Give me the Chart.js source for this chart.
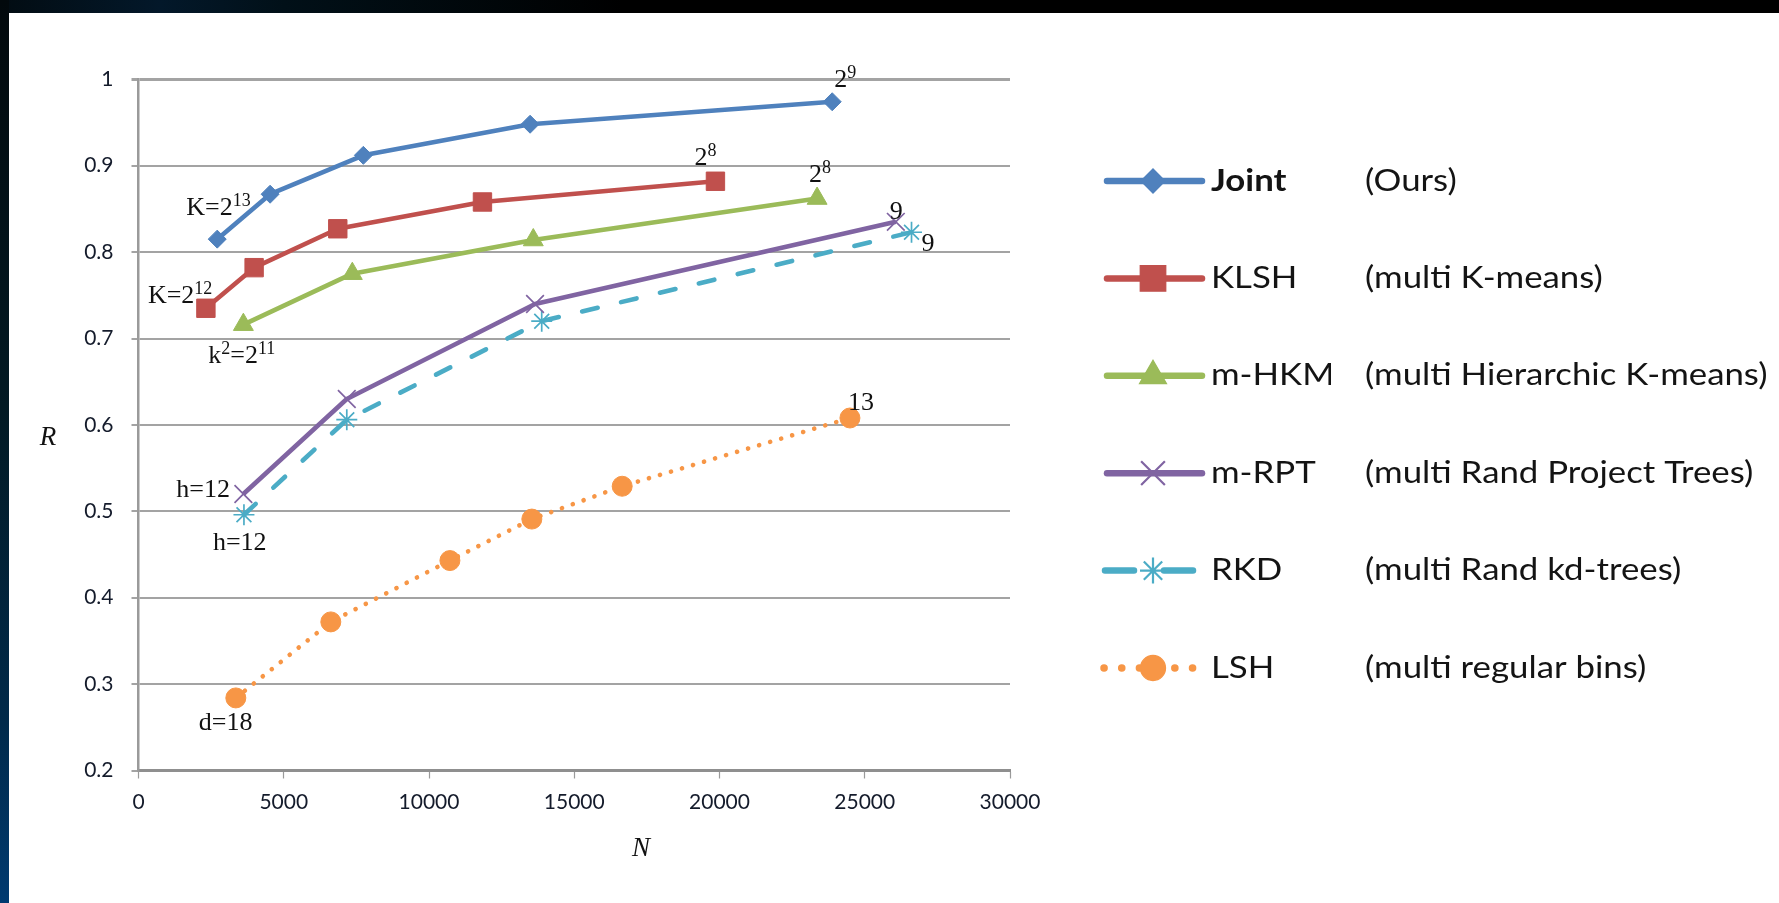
<!DOCTYPE html>
<html>
<head>
<meta charset="utf-8">
<title>Recall vs N</title>
<script src="https://cdn.jsdelivr.net/npm/chart.js@4.4.1/dist/chart.umd.min.js"></script>
<style>
  html, body { margin: 0; padding: 0; width: 1779px; height: 903px; overflow: hidden; background: #000; }
  .topband { position: absolute; left: 0; top: 0; width: 1779px; height: 13px;
    background: linear-gradient(to right, #020c12 0%, #03182a 9%, #011018 16%, #000 35%, #000 100%); }
  .leftband { position: absolute; left: 0; top: 0; width: 9px; height: 903px;
    background: linear-gradient(to bottom, #02090c 0%, #021a24 45%, #012a4a 80%, #003a70 100%); }
  .sheet { position: absolute; left: 9px; top: 13px; width: 1770px; height: 890px; background: #fff; }
</style>
</head>
<body>
<div class="topband"></div>
<div class="leftband"></div>
<div class="sheet"><canvas id="recallChart"></canvas></div>

<script>
// ===== DADOS =====
const seriesNames = ["Joint", "KLSH", "m-HKM", "m-RPT", "RKD", "LSH"];
const seriesNotes = ["(Ours)", "(multi K-means)", "(multi Hierarchic K-means)",
  "(multi Rand Project Trees)", "(multi Rand kd-trees)", "(multi regular bins)"];

const jointN = [2710, 4530, 7740, 13480, 23880];
const jointR = [0.815, 0.867, 0.912, 0.948, 0.974];

const klshN = [2320, 3980, 6860, 11840, 19860];
const klshR = [0.735, 0.782, 0.827, 0.858, 0.882];

const hkmN = [3610, 7360, 13590, 23360];
const hkmR = [0.716, 0.775, 0.814, 0.862];

const rptN = [3610, 7170, 13650, 26070];
const rptR = [0.520, 0.630, 0.740, 0.835];

const rkdN = [3630, 7170, 13880, 26610];
const rkdR = [0.496, 0.606, 0.720, 0.823];

const lshN = [3350, 6620, 10720, 13540, 16650, 24490];
const lshR = [0.284, 0.372, 0.443, 0.491, 0.529, 0.608];

const xTicks = [0, 5000, 10000, 15000, 20000, 25000, 30000];
const xTickLabels = ["0", "5000", "10000", "15000", "20000", "25000", "30000"];
const yTicks = [0.2, 0.3, 0.4, 0.5, 0.6, 0.7, 0.8, 0.9, 1];
const yTickLabels = ["0.2", "0.3", "0.4", "0.5", "0.6", "0.7", "0.8", "0.9", "1"];

const xTitle = "N";
const yTitle = "R";

// rótulos junto aos pontos: [série, ponto, partes (texto, sobrescrito)]
const pointNotes = [
  { ds: 0, i: 0, parts: [["K=2", 0], ["13", 1]], dx: -31, dy: -24 },
  { ds: 1, i: 0, parts: [["K=2", 0], ["12", 1]], dx: -58, dy: -5 },
  { ds: 2, i: 0, parts: [["k", 0], ["2", 1], ["=2", 0], ["11", 1]], dx: -35, dy: 38 },
  { ds: 3, i: 0, parts: [["h=12", 0]], dx: -67, dy: 3 },
  { ds: 4, i: 0, parts: [["h=12", 0]], dx: -31, dy: 35 },
  { ds: 5, i: 0, parts: [["d=18", 0]], dx: -37, dy: 32 },
  { ds: 0, i: 4, parts: [["2", 0], ["9", 1]], dx: 2, dy: -15 },
  { ds: 1, i: 4, parts: [["2", 0], ["8", 1]], dx: -21, dy: -16 },
  { ds: 2, i: 3, parts: [["2", 0], ["8", 1]], dx: -8, dy: -17 },
  { ds: 3, i: 3, parts: [["9", 0]], dx: -6, dy: -3 },
  { ds: 4, i: 3, parts: [["9", 0]], dx: 10, dy: 19 },
  { ds: 5, i: 5, parts: [["13", 0]], dx: -2, dy: -8 }
];

const toPoints = (xs, ys) => xs.map((x, k) => ({ x: x, y: ys[k] }));

// ===== ESTILOS =====
const cores = ["#4f81bd", "#c0504d", "#9bbb59", "#8064a2", "#4bacc6", "#f79646"];
const marcadores = ["rectRot", "rect", "triangle", "crossRot", "star", "circle"];
const raios = [9, 13, 11.5, 12.5, 10.5, 10];
const raiosLegenda = [12, 18, 15.5, 16.8, 13, 12.5];
const tracos = [[], [], [], [], [16, 24], [0.1, 11.4]];
const tracosLegenda = [[], [], [], [], [29, 30], [0.1, 17.6]];
const SERIF = '"Liberation Serif", "DejaVu Serif", serif';
const SANS = 'Lato, "Open Sans", sans-serif';

function makeDataset(k, xs, ys) {
  const fino = marcadores[k] === "crossRot" || marcadores[k] === "star";
  return {
    label: seriesNames[k],
    data: toPoints(xs, ys),
    borderColor: cores[k],
    backgroundColor: cores[k],
    borderWidth: 4.6,
    borderDash: tracos[k],
    borderCapStyle: tracos[k].length ? "round" : "butt",
    borderJoinStyle: "round",
    pointStyle: marcadores[k],
    pointRadius: raios[k],
    pointHoverRadius: raios[k],
    pointBorderWidth: fino ? 1.7 : 1,
    pointBackgroundColor: cores[k],
    pointBorderColor: cores[k],
    tension: 0
  };
}

// ===== TEXTO COM SOBRESCRITO =====
function drawRich(ctx, parts, x, y) {
  let cx = x;
  parts.forEach(([txt, sup]) => {
    ctx.font = (sup ? "18px " : "26px ") + SERIF;
    ctx.fillText(txt, cx, sup ? y - 9 : y);
    cx += ctx.measureText(txt).width;
  });
}

// texto da legenda um pouco alargado (como no original)
function drawWide(ctx, txt, x, y, sx) {
  ctx.save();
  ctx.translate(x, y);
  ctx.scale(sx, 1);
  ctx.fillText(txt, 0, 0);
  ctx.restore();
}

// ===== PLUGIN: RÓTULOS, TÍTULOS E LEGENDA =====
const notesPlugin = {
  id: "notes",
  afterDraw(chart) {
    const ctx = chart.ctx;
    ctx.save();

    // títulos dos eixos
    ctx.fillStyle = "#111";
    ctx.font = "italic 27px " + SERIF;
    ctx.textAlign = "center";
    ctx.textBaseline = "middle";
    ctx.fillText(yTitle, 39, 425);
    ctx.fillText(xTitle, 632, 836);

    // rótulos dos pontos
    ctx.textAlign = "left";
    ctx.textBaseline = "alphabetic";
    pointNotes.forEach(n => {
      const el = chart.getDatasetMeta(n.ds).data[n.i];
      drawRich(ctx, n.parts, el.x + n.dx, el.y + n.dy);
    });

    // legenda
    const lx0 = 1098, lx1 = 1193, mx = 1144;
    chart.data.datasets.forEach((d, k) => {
      const y = 168 + k * 97.4;
      ctx.save();
      ctx.strokeStyle = d.borderColor;
      ctx.lineWidth = k === 5 ? 7.5 : 6.5;
      ctx.lineCap = "round";
      ctx.setLineDash(tracosLegenda[k]);
      ctx.beginPath();
      if (k === 4) { ctx.moveTo(1096, y); ctx.lineTo(1184, y); }
      else if (k === 5) { ctx.moveTo(1095, y); ctx.lineTo(1184, y); }
      else { ctx.moveTo(lx0, y); ctx.lineTo(lx1, y); }
      ctx.stroke();
      ctx.restore();

      ctx.save();
      ctx.fillStyle = d.pointBackgroundColor;
      ctx.strokeStyle = d.pointBorderColor;
      ctx.lineWidth = d.pointBorderWidth * 1.3;
      Chart.helpers.drawPoint(ctx, {
        pointStyle: d.pointStyle,
        radius: raiosLegenda[k],
        borderWidth: d.pointBorderWidth,
        rotation: 0
      }, mx, y);
      ctx.restore();

      ctx.fillStyle = "#141414";
      ctx.textBaseline = "middle";

      // coluna dos nomes cortada como no original ("m-HKM")
      ctx.save();
      ctx.beginPath();
      ctx.rect(1198, y - 30, 1322 - 1198, 60);
      ctx.clip();
      ctx.font = (k === 0 ? "bold " : "") + "30px " + SANS;
      drawWide(ctx, d.label, 1202, y, 1.16);
      ctx.restore();

      ctx.font = "30px " + SANS;
      drawWide(ctx, seriesNotes[k], 1356, y, 1.16);
    });

    ctx.restore();
  }
};

// ===== GRÁFICO =====
Chart.defaults.font.family = SANS;
Chart.defaults.color = "#141b2b";

const gridCor = "#a3a3a3";

new Chart(document.getElementById("recallChart"), {
  type: "line",
  data: {
    datasets: [
      makeDataset(0, jointN, jointR),
      makeDataset(1, klshN, klshR),
      makeDataset(2, hkmN, hkmR),
      makeDataset(3, rptN, rptR),
      makeDataset(4, rkdN, rkdR),
      makeDataset(5, lshN, lshR)
    ]
  },
  options: {
    responsive: true,
    maintainAspectRatio: false,
    animation: false,
    events: [],
    layout: { padding: { left: 0, top: 66.3, right: 769, bottom: 72.5 } },
    plugins: {
      legend: { display: false },
      tooltip: { enabled: false }
    },
    scales: {
      x: {
        type: "linear",
        min: 0,
        max: 30000,
        afterFit: s => { s.height = 60; },
        afterBuildTicks: s => { s.ticks = xTicks.map(v => ({ value: v })); },
        ticks: {
          padding: 11,
          maxRotation: 0,
          font: { size: 21 },
          callback: (v, i) => xTickLabels[i]
        },
        grid: {
          drawOnChartArea: false,
          drawTicks: true,
          tickLength: 8,
          tickWidth: 1.2,
          tickColor: "#9a9a9a"
        },
        border: { color: "#8f8f8f", width: 3 }
      },
      y: {
        type: "linear",
        min: 0.2,
        max: 1,
        afterFit: s => { s.width = 129.5; },
        afterBuildTicks: s => { s.ticks = yTicks.map(v => ({ value: v })); },
        ticks: {
          padding: 18,
          font: { size: 21 },
          callback: (v, i) => yTickLabels[i]
        },
        grid: {
          color: gridCor,
          lineWidth: c => (c.tick && c.tick.value === 1 ? 3 : 2),
          tickLength: 7
        },
        border: { color: "#9a9a9a", width: 2.5 }
      }
    }
  },
  plugins: [notesPlugin]
});
</script>
</body>
</html>
